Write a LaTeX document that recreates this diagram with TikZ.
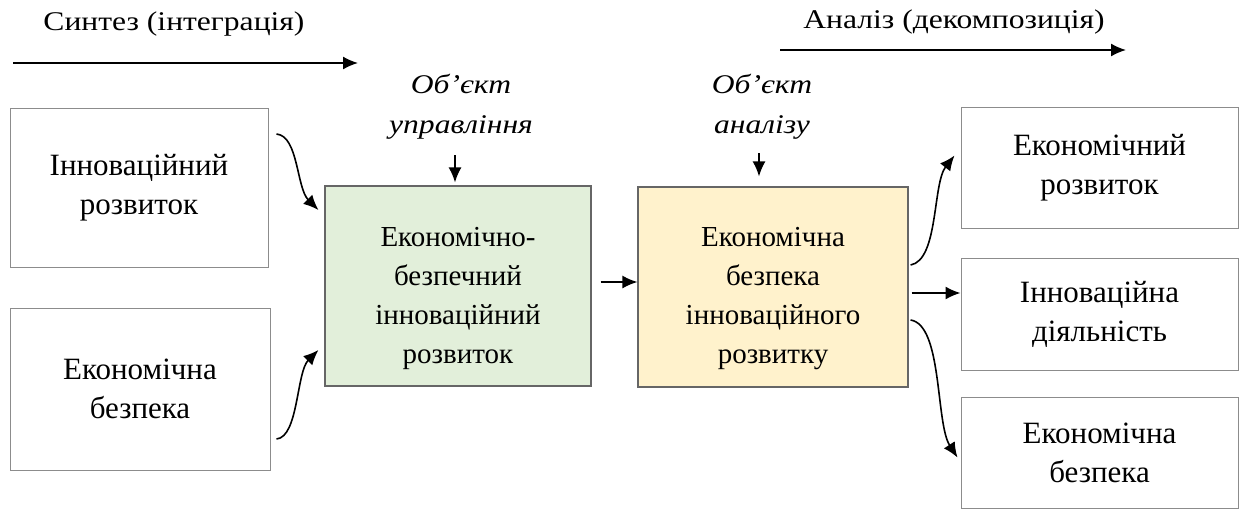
\documentclass[tikz,border=0pt]{standalone}
\usepackage{fontspec}
\setmainfont{Liberation Serif}
\newfontfamily\widefont[FakeStretch=1.17]{Liberation Serif}
\usetikzlibrary{arrows.meta}
\begin{document}
\begin{tikzpicture}[x=0.5pt,y=-0.5pt,
  arr/.style={line width=0.8pt,-{Latex[length=7.5pt,width=6.5pt]}},
  plainbox/.style={draw=black!45,line width=0.5pt,align=center,
    font=\fontsize{15.5}{19.5}\selectfont,inner sep=0pt},
  corebox/.style={draw=black!60,line width=0.6pt,inner sep=0pt},
  coretext/.style={align=center,font=\fontsize{14.5}{19.5}\selectfont,inner sep=0pt},
  caption/.style={font=\widefont\fontsize{13.5}{16}\selectfont,inner sep=0pt},
  objlabel/.style={font=\widefont\itshape\fontsize{13.5}{20}\selectfont,align=center,inner sep=0pt}]
\useasboundingbox (0,0) rectangle (1240,510);

% input boxes
\node[plainbox,minimum width=129pt,minimum height=79.5pt] (l1) at (139,188)
  {Інноваційний\\розвиток};
\node[plainbox,minimum width=130pt,minimum height=81pt] (l2) at (140,389)
  {Економічна\\безпека};

% central boxes
\node[corebox,fill={rgb,255:red,226;green,239;blue,218},
  minimum width=133pt,minimum height=100pt] (g) at (458,286) {};
\node[coretext] (gt) at ([yshift=-6]g.center)
  {Економічно-\\безпечний\\інноваційний\\розвиток};
\node[corebox,fill={rgb,255:red,255;green,242;blue,204},
  minimum width=135pt,minimum height=100pt] (y) at (773,287) {};
\node[coretext] (yt) at ([yshift=-6]y.center)
  {Економічна\\безпека\\інноваційного\\розвитку};

% output boxes
\node[plainbox,minimum width=138.5pt,minimum height=60.5pt] (r1) at (1099.5,167.5)
  {Економічний\\розвиток};
\node[plainbox,minimum width=138.5pt,minimum height=56pt] (r2) at (1099.5,314)
  {Інноваційна\\діяльність};
\node[plainbox,minimum width=138.5pt,minimum height=55.5pt] (r3) at (1099.5,452.5)
  {Економічна\\безпека};

% direction captions
\node[caption] (syn) at (174,24) {Синтез (інтеграція)};
\coordinate (syn0) at (13,63);
\coordinate (syn1) at (358,63);
\draw[arr] (syn0) -- (syn1);

\node[caption] (ana) at (954,22) {Аналіз (декомпозиція)};
\coordinate (ana0) at (780,50);
\coordinate (ana1) at (1126,50);
\draw[arr] (ana0) -- (ana1);

% object labels
\node[objlabel] (ou) at (461,107) {Об’єкт\\управління};
\node[objlabel] (oa) at (762,107) {Об’єкт\\аналізу};
\draw[arr] ([shift={(-3,-30)}]g.north) -- ([shift={(-3,-3)}]g.north);
\draw[arr] ([shift={(-14,-33)}]y.north) -- ([shift={(-14,-10)}]y.north);

% connectors
\draw[arr] ([shift={(8,-54)}]l1.east) .. controls +(22,2) and +(-22,-22) .. ([shift={(-6,-76)}]g.west);
\draw[arr] ([shift={(6,50)}]l2.east) .. controls +(22,-2) and +(-22,22) .. ([shift={(-6,64)}]g.west);
\draw[arr] ([shift={(9,-4)}]g.east) -- ([shift={(0,-5)}]y.west);
\draw[arr] ([shift={(2,-22)}]y.east) .. controls +(28,-5) and +(-22,28) .. ([shift={(-6,-12)}]r1.west);
\draw[arr] ([shift={(3,6)}]y.east) -- ([shift={(0,-21)}]r2.west);
\draw[arr] ([shift={(2,33)}]y.east) .. controls +(32,5) and +(-22,-34) .. ([shift={(-3,5)}]r3.west);
\end{tikzpicture}
\end{document}
